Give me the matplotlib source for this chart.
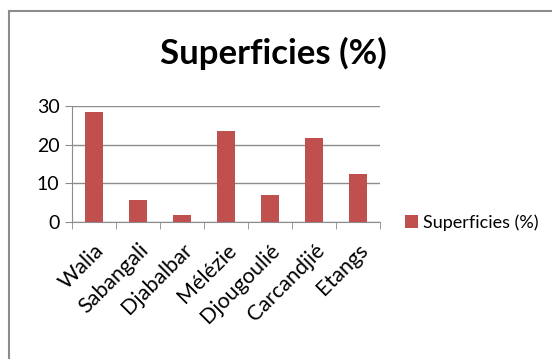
import numpy as np
import matplotlib.pyplot as plt
from matplotlib.lines import Line2D

# Donnees
categories = ['Walia', 'Sabangali', 'Djabalbar', 'Mélézie', 'Djougoulié', 'Carcandjié', 'Etangs']
superficies = [28.4, 5.6, 1.7, 23.6, 7.0, 21.8, 12.3]
y_ticks = [0, 10, 20, 30]
serie_label = 'Superficies (%)'

plt.rcParams['font.family'] = ['Lato', 'DejaVu Sans']

fig = plt.figure(figsize=(5.52, 3.59), dpi=100)
ax = fig.add_axes([0.1304, 0.3816, 0.558, 0.3231])

x = np.arange(len(categories))
ax.bar(x, superficies, width=0.4, color='#C0504D', label=serie_label, zorder=3)

ax.set_xlim(-0.5, len(categories) - 0.5)
ax.set_ylim(0, 30)
ax.set_yticks(y_ticks)
ax.yaxis.grid(True, color='#8c8c8c', linewidth=1.0, zorder=0)

# ticks de separation entre categories
ax.set_xticks(x)
ax.set_xticklabels(categories, rotation=45, ha='right', rotation_mode='anchor', fontsize=15.5)
ax.set_xticks(np.arange(-0.5, len(categories)), minor=True)
ax.tick_params(axis='x', which='major', length=0, pad=13)
ax.tick_params(axis='x', which='minor', length=5, color='#8c8c8c', direction='out')
ax.tick_params(axis='y', length=5, color='#8c8c8c', labelsize=14, pad=4)

for s in ['top', 'right']:
    ax.spines[s].set_visible(False)
for s in ['left', 'bottom']:
    ax.spines[s].set_color('#8c8c8c')

fig.text(0.495, 0.85, 'Superficies (%)', ha='center', va='center', fontsize=25, fontweight='bold')

ax.legend(loc='center left', bbox_to_anchor=(0.705, 0.381), bbox_transform=fig.transFigure,
          frameon=False, fontsize=13, handlelength=0.7, handleheight=0.7, handletextpad=0.3)

# cadre du graphique
fig.add_artist(Line2D([0.017, 0.017], [0.97, -0.1], color='#8c8c8c', linewidth=1.5))
fig.add_artist(Line2D([0.017, 1.1], [0.97, 0.97], color='#8c8c8c', linewidth=1.5))

fig.savefig('out.png', dpi=100)
